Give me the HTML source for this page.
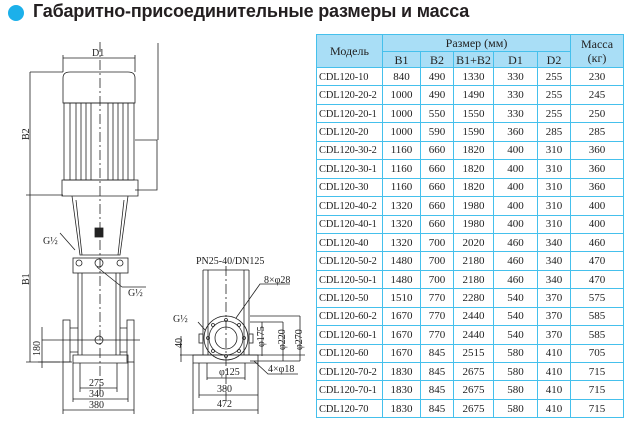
<!DOCTYPE html>
<html><head><meta charset="utf-8"><style>
body{margin:0;width:640px;height:428px;background:#fff;position:relative;overflow:hidden;font-family:"Liberation Serif",serif}
.t{position:absolute;left:33px;top:1px;font:bold 18px "Liberation Sans",sans-serif;color:#231f20;letter-spacing:-0.2px;white-space:nowrap}
.dot{position:absolute;left:8px;top:5px;width:16px;height:16px;border-radius:50%;background:#1cb0ea}
table{position:absolute;left:316px;top:34px;width:307px;table-layout:fixed;border-collapse:collapse;font-size:11px;color:#222}
td{border:1.2px solid #45c0ec;text-align:center;padding:0;white-space:nowrap;overflow:hidden;line-height:12px;vertical-align:middle}
tr{height:18.45px}
td.m{text-align:left;padding:2px 0 0 2px;font-size:10.4px;letter-spacing:-0.1px}
.h td{background:#a9def6;font-size:12px}
svg{position:absolute;left:0;top:0}
svg text{font-family:"Liberation Serif",serif;font-size:10px;fill:#222;stroke:none}
</style></head><body>
<div class="dot"></div>
<div class="t">Габаритно-присоединительные размеры и масса</div>
<svg width="310" height="428" stroke="#222" fill="none" stroke-width="0.8">
<path d="M63 78 Q63 72 70 72 L128 72 Q135 72 135 78 L135 103 L63 103 Z"/>
<rect x="64" y="103" width="70" height="77"/>
<path d="M70 103V180M76 103V180M81 103V180M86 103V180M91 103V180M108 103V180M113 103V180M118 103V180M123 103V180M128 103V180"/>
<path d="M135 140H157V190H135"/>
<path d="M158 43V140"/>
<path d="M63 58H135M63 55V72M135 55V72"/>
<path d="M30 72H63M30 72V362M26 195H63M26 362H72"/>
<text x="92" y="56">D1</text>
<text transform="translate(29,140) rotate(-90)">B2</text>
<text transform="translate(29,285) rotate(-90)">B1</text>
<path d="M62 180H138V196H62Z"/>
<path d="M72 196L80 255H120L128 196"/>
<path d="M76 200L82 255M124 200L118 255"/>
<rect x="95" y="228" width="8" height="9" fill="#222"/>
<rect x="73" y="258" width="55" height="15"/>
<circle cx="99" cy="263" r="4"/>
<circle cx="79" cy="263" r="3"/><circle cx="120" cy="263" r="3"/>
<path d="M78 273V355M82 273V355M116 273V355M120 273V355"/>
<rect x="63" y="320" width="7" height="42"/><rect x="127" y="320" width="7" height="42"/>
<path d="M70 328H78M70 352H78M120 328H127M120 352H127"/>
<circle cx="99" cy="340" r="4"/>
<path d="M73 355H128V363H73Z"/>
<path d="M100 42V395" stroke-dasharray="10 3 2 3"/>
<path d="M42 340H140"/>
<path d="M42 327V368M38 362H60"/>
<text transform="translate(40,356) rotate(-90)">180</text>
<path d="M80 363V392M117 363V392M73 363V402M128 363V402M63 362V414M134 362V414"/>
<path d="M80 388H117M73 399H128M63 410H134"/>
<text x="89" y="386">275</text><text x="89" y="397">340</text><text x="89" y="408">380</text>
<path d="M60 233L75 250M122 287H146"/>
<text x="43" y="244">G½</text><text x="128" y="296">G½</text>
<path d="M97 267L122 287"/>
<path d="M203 270V355M208 270V355M244 270V355M249 270V355M203 270H249"/>
<circle cx="226" cy="338" r="22"/><circle cx="226" cy="338" r="17"/><circle cx="226" cy="338" r="11"/>
<circle cx="226" cy="320" r="1.5"/><circle cx="226" cy="356" r="1.5"/><circle cx="208" cy="338" r="1.5"/><circle cx="244" cy="338" r="1.5"/>
<circle cx="213" cy="325" r="1.5"/><circle cx="239" cy="325" r="1.5"/><circle cx="213" cy="351" r="1.5"/><circle cx="239" cy="351" r="1.5"/>
<rect x="199" y="334" width="4" height="9"/><rect x="249" y="334" width="4" height="9"/>
<path d="M193 355H258V363H193Z"/>
<path d="M226 266V400" stroke-dasharray="10 3 2 3"/>
<path d="M180 355H305M250 316H300M250 322H283M250 361H283M250 361H300"/>
<path d="M262 322V356M283 322V361M300 316V361"/>
<text transform="translate(264,347) rotate(-90)" font-size="9">φ175</text>
<text transform="translate(285,350) rotate(-90)" font-size="9">φ220</text>
<text transform="translate(302,350) rotate(-90)" font-size="9">φ270</text>
<path d="M181 336V362"/>
<text transform="translate(182,348) rotate(-90)">40</text>
<path d="M207 363V380M245 363V380M199 363V398M258 363V414M193 363V414"/>
<path d="M207 378H245M199 395H258M193 410H258"/>
<text x="219" y="375" font-size="9">φ125</text>
<text x="217" y="392">380</text><text x="217" y="407">472</text>
<path d="M198 322L205 330"/><text x="173" y="322">G½</text>
<path d="M236 318L260 284H290"/><text x="264" y="283">8×φ28</text>
<path d="M254 361L268 374H298"/><text x="268" y="372">4×φ18</text>
<text x="196" y="264">PN25-40/DN125</text>
</svg>
<table>
<colgroup><col style="width:66px"><col style="width:38px"><col style="width:33px"><col style="width:40px"><col style="width:44px"><col style="width:33px"><col style="width:53px"></colgroup>
<tr class="h" style="height:17px"><td rowspan="2">Модель</td><td colspan="5">Размер (мм)</td><td rowspan="2" style="line-height:14px">Масса<br>(кг)</td></tr>
<tr class="h" style="height:16px"><td>B1</td><td>B2</td><td>B1+B2</td><td>D1</td><td>D2</td></tr>
<tr><td class="m">CDL120-10</td><td>840</td><td>490</td><td>1330</td><td>330</td><td>255</td><td>230</td></tr>
<tr><td class="m">CDL120-20-2</td><td>1000</td><td>490</td><td>1490</td><td>330</td><td>255</td><td>245</td></tr>
<tr><td class="m">CDL120-20-1</td><td>1000</td><td>550</td><td>1550</td><td>330</td><td>255</td><td>250</td></tr>
<tr><td class="m">CDL120-20</td><td>1000</td><td>590</td><td>1590</td><td>360</td><td>285</td><td>285</td></tr>
<tr><td class="m">CDL120-30-2</td><td>1160</td><td>660</td><td>1820</td><td>400</td><td>310</td><td>360</td></tr>
<tr><td class="m">CDL120-30-1</td><td>1160</td><td>660</td><td>1820</td><td>400</td><td>310</td><td>360</td></tr>
<tr><td class="m">CDL120-30</td><td>1160</td><td>660</td><td>1820</td><td>400</td><td>310</td><td>360</td></tr>
<tr><td class="m">CDL120-40-2</td><td>1320</td><td>660</td><td>1980</td><td>400</td><td>310</td><td>400</td></tr>
<tr><td class="m">CDL120-40-1</td><td>1320</td><td>660</td><td>1980</td><td>400</td><td>310</td><td>400</td></tr>
<tr><td class="m">CDL120-40</td><td>1320</td><td>700</td><td>2020</td><td>460</td><td>340</td><td>460</td></tr>
<tr><td class="m">CDL120-50-2</td><td>1480</td><td>700</td><td>2180</td><td>460</td><td>340</td><td>470</td></tr>
<tr><td class="m">CDL120-50-1</td><td>1480</td><td>700</td><td>2180</td><td>460</td><td>340</td><td>470</td></tr>
<tr><td class="m">CDL120-50</td><td>1510</td><td>770</td><td>2280</td><td>540</td><td>370</td><td>575</td></tr>
<tr><td class="m">CDL120-60-2</td><td>1670</td><td>770</td><td>2440</td><td>540</td><td>370</td><td>585</td></tr>
<tr><td class="m">CDL120-60-1</td><td>1670</td><td>770</td><td>2440</td><td>540</td><td>370</td><td>585</td></tr>
<tr><td class="m">CDL120-60</td><td>1670</td><td>845</td><td>2515</td><td>580</td><td>410</td><td>705</td></tr>
<tr><td class="m">CDL120-70-2</td><td>1830</td><td>845</td><td>2675</td><td>580</td><td>410</td><td>715</td></tr>
<tr><td class="m">CDL120-70-1</td><td>1830</td><td>845</td><td>2675</td><td>580</td><td>410</td><td>715</td></tr>
<tr><td class="m">CDL120-70</td><td>1830</td><td>845</td><td>2675</td><td>580</td><td>410</td><td>715</td></tr>
</table>
</body></html>
